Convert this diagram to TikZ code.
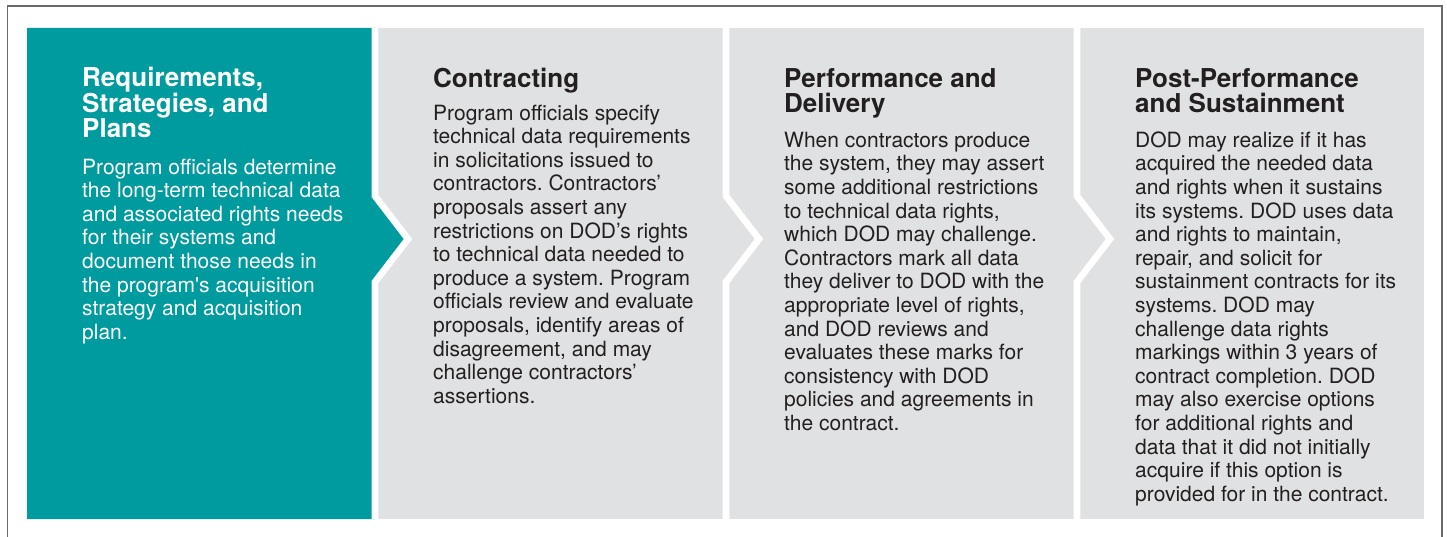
\documentclass[tikz,border=0pt]{standalone}
\usepackage{fontspec}
\setmainfont{TeX Gyre Heros}
\usetikzlibrary{calc}
\definecolor{stageteal}{RGB}{0,155,158}
\definecolor{stagegray}{RGB}{224,225,227}
\definecolor{framegray}{RGB}{105,105,107}
\definecolor{stagetext}{RGB}{35,31,32}
\frenchspacing

\begin{document}
\begin{tikzpicture}[x=1pt, y=-1pt,
	stagetitle/.style={anchor=base west, inner sep=0, align=left, text=stagetext, font=\fontsize{26}{25.5}\selectfont\bfseries},
	stagebody/.style={anchor=base west, inner sep=0, align=left, text=stagetext, font=\fontsize{21}{23.6}\selectfont},
	gapline/.style={draw=white, line width=6.7pt, miter limit=10}]
		\useasboundingbox (0,0) rectangle (1447,537);
		\path
		(27,28) coordinate (O)
		(375,28) coordinate (A)
		(726,28) coordinate (B)
		(1077,28) coordinate (C)
		(1424,519) coordinate (E)
		;
		\fill[stagegray] (A) rectangle (E);
		\fill[stageteal] (O) -- (A) -- ++(0,168) -- ++(33,43) -- ++(-33,43) -- ($(A)+(0,491)$) -- ($(O)+(0,491)$) -- cycle;
		
		\draw[gapline] (A) -- ++(0,168) -- ++(33,43) -- ++(-33,43) -- ($(A)+(0,491)$);
		\draw[gapline] (B) -- ++(0,168) -- ++(33,43) -- ++(-33,43) -- ($(B)+(0,491)$);
		\draw[gapline] (C) -- ++(0,168) -- ++(33,43) -- ++(-33,43) -- ($(C)+(0,491)$);
		
		\draw[framegray, line width=1.6pt] (7.5,537) -- (7.5,6) -- (1442,6) -- (1442,537);
		
		% base anchor sits on the last line, so the y values are last baselines
		\node[stagetitle, text=white] (reqtitle) at (82,138) {Requirements,\\Strategies, and\\Plans};
		\node[stagebody, text=white] (reqbody) at (82,339.2) {Program officials determine\\the long-term technical data\\and associated rights needs\\for their systems and\\document those needs in\\the program\textquotesingle s acquisition\\strategy and acquisition\\plan.};
		
		\node[stagetitle] (contitle) at (433,87.5) {Contracting};
		\node[stagebody] (conbody) at (433,403.2) {Program officials specify\\technical data requirements\\in solicitations issued to\\contractors. Contractors’\\proposals assert any\\restrictions on DOD’s rights\\to technical data needed to\\produce a system. Program\\officials review and evaluate\\proposals, identify areas of\\disagreement, and may\\challenge contractors’\\assertions.};
		
		\node[stagetitle] (perftitle) at (784,113) {Performance and\\Delivery};
		\node[stagebody] (perfbody) at (784,430.5) {When contractors produce\\the system, they may assert\\some additional restrictions\\to technical data rights,\\which DOD may challenge.\\Contractors mark all data\\they deliver to DOD with the\\appropriate level of rights,\\and DOD reviews and\\evaluates these marks for\\consistency with DOD\\policies and agreements in\\the contract.};
		
		\node[stagetitle] (posttitle) at (1135,113) {Post-Performance\\and Sustainment};
		\node[stagebody] (postbody) at (1135,501.3) {DOD may realize if it has\\acquired the needed data\\and rights when it sustains\\its systems. DOD uses data\\and rights to maintain,\\repair, and solicit for\\sustainment contracts for its\\systems. DOD may\\challenge data rights\\markings within 3 years of\\contract completion. DOD\\may also exercise options\\for additional rights and\\data that it did not initially\\acquire if this option is\\provided for in the contract.};
	\end{tikzpicture}
\end{document}
